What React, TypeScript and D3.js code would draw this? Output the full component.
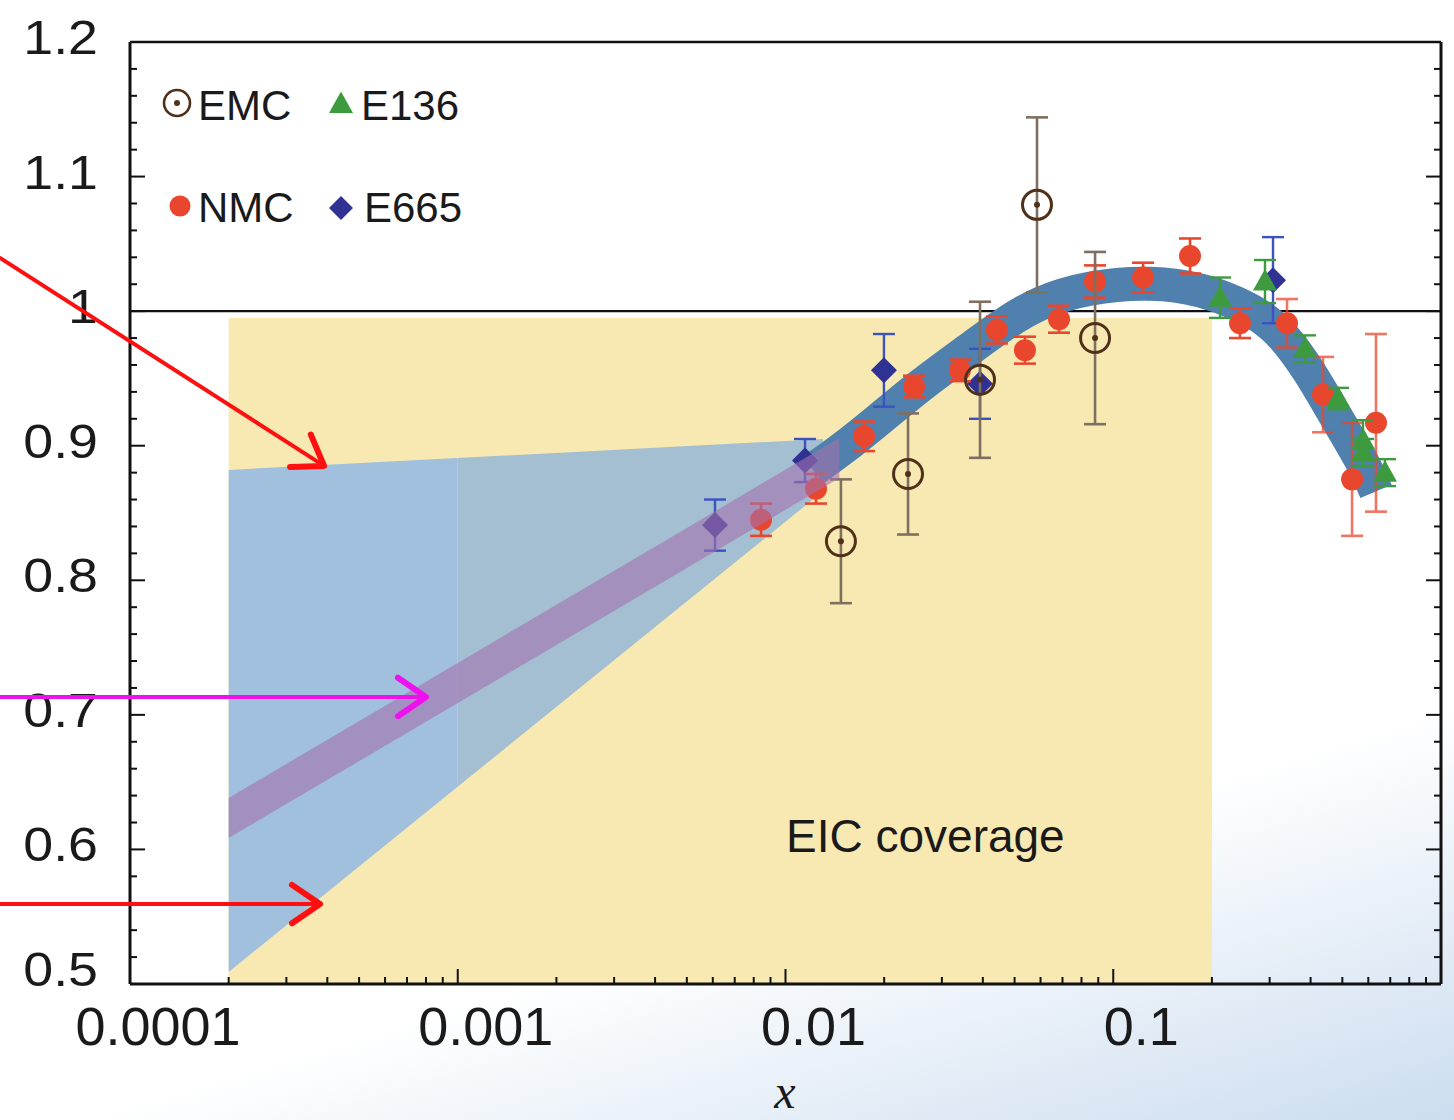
import React from 'react';
import * as d3 from 'd3';

// ---------- data ----------
const emcX = [0.01476, 0.02365, 0.03922, 0.05853, 0.088];
const emcY = [0.829, 0.879, 0.949, 1.079, 0.980];
const emcErr = [0.046, 0.045, 0.058, 0.065, 0.064];

const nmcX = [0.00842, 0.01239, 0.01736, 0.02467, 0.03406, 0.04417, 0.05378, 0.06832, 0.088, 0.1233, 0.1715, 0.2436, 0.339, 0.4365, 0.5354, 0.6334];
const nmcY = [0.845, 0.868, 0.907, 0.944, 0.956, 0.986, 0.971, 0.994, 1.022, 1.025, 1.041, 0.991, 0.991, 0.938, 0.875, 0.917];
const nmcErr = [0.012, 0.011, 0.011, 0.008, 0.008, 0.010, 0.010, 0.010, 0.012, 0.011, 0.013, 0.011, 0.018, 0.028, 0.042, 0.066];

const e665X = [0.006094, 0.01147, 0.01997, 0.03922, 0.3072];
const e665Y = [0.841, 0.889, 0.956, 0.946, 1.023];
const e665Err = [0.019, 0.016, 0.027, 0.026, 0.032];

const e136X = [0.2117, 0.2904, 0.3847, 0.4851, 0.5781, 0.5781, 0.6747];
const e136Y = [1.010, 1.022, 0.972, 0.935, 0.904, 0.895, 0.880];
const e136Err = [0.015, 0.016, 0.010, 0.008, 0.015, 0.010, 0.010];

// fitted nuclear ratio (dark band centre line)
const bandX = [0.01213, 0.01466, 0.01942, 0.02573, 0.03655, 0.04609, 0.05853, 0.08316, 0.1322, 0.1878, 0.2385, 0.2804, 0.3296, 0.3985, 0.4684, 0.5277, 0.5943, 0.6334];
const bandY = [0.882, 0.896, 0.920, 0.945, 0.972, 0.990, 1.006, 1.018, 1.022, 1.016, 1.006, 0.997, 0.983, 0.955, 0.925, 0.904, 0.882, 0.866];

// light-blue extrapolation envelope
const shadeX = [0.0002, 0.013];
const shadeLo = [0.509, 0.866];
const shadeHi = [0.882, 0.905];

// purple band (EIC projection)
const purpleX = [0.0002, 0.00542, 0.0146];
const purpleY = [0.6234, 0.829, 0.891];
const purpleHalf = 0.0149;

// EIC coverage
const eicRange = [0.0002, 0.2];
const eicTop = 0.995;

const yTickLabels = ['0.5', '0.6', '0.7', '0.8', '0.9', '1', '1.1', '1.2'];
const yTickValues = [0.5, 0.6, 0.7, 0.8, 0.9, 1.0, 1.1, 1.2];
const xTickLabels = ['0.0001', '0.001', '0.01', '0.1', '1'];
const xTickValues = [0.0001, 0.001, 0.01, 0.1, 1];

// annotation arrows in data space
const arrows = [
  { from: [4.012e-5, 1.0395], to: [3.91e-4, 0.885], color: '#ff1010' },
  { from: [4.012e-5, 0.7133], to: [8.0e-4, 0.7133], color: '#ee11ee' },
  { from: [4.012e-5, 0.5594], to: [3.8e-4, 0.5594], color: '#ff1010' },
];

const FONT = "'Liberation Sans', Arial, Helvetica, sans-serif";

export default function App() {
  const W = 1454, H = 1120;
  const L = 130, R = 1441, T = 42, B = 984;
  const x = d3.scaleLog().domain([1e-4, 1]).range([L, R]);
  const y = d3.scaleLinear().domain([0.5, 1.2]).range([B, T]);

  const bandPath = d3.line<number>()
    .x((_, i) => x(bandX[i]))
    .y((d) => y(d))
    .curve(d3.curveBasis)(bandY) as string;

  const shadePath = d3.area<number>()
    .x((_, i) => x(shadeX[i]))
    .y0((_, i) => y(shadeLo[i]))
    .y1((_, i) => y(shadeHi[i]))(shadeX) as string;

  const purplePath = d3.area<number>()
    .x((_, i) => x(purpleX[i]))
    .y0((d) => y(d - purpleHalf))
    .y1((d) => y(d + purpleHalf))(purpleY) as string;

  // ticks
  const yMinor = d3.range(0, 36).map((i) => 0.5 + i * 0.02);
  const xMinor: { v: number; major: boolean }[] = [];
  for (let e = -4; e <= 0; e++) {
    for (let m = 1; m <= 9; m++) {
      const v = m * Math.pow(10, e);
      if (v > 1.0000001) break;
      xMinor.push({ v, major: m === 1 });
    }
  }

  const errBar = (cx: number, cy: number, err: number, color: string, key: string, w = 2.6, cap = 11, op = 1) => (
    <g key={key} stroke={color} strokeWidth={w} opacity={op}>
      <line x1={x(cx)} x2={x(cx)} y1={y(cy - err)} y2={y(cy + err)} />
      <line x1={x(cx) - cap} x2={x(cx) + cap} y1={y(cy - err)} y2={y(cy - err)} />
      <line x1={x(cx) - cap} x2={x(cx) + cap} y1={y(cy + err)} y2={y(cy + err)} />
    </g>
  );

  const diamond = (px: number, py: number, s: number) =>
    `M${px},${py - s}L${px + s},${py}L${px},${py + s}L${px - s},${py}Z`;
  const triangle = (px: number, py: number, s: number) =>
    `M${px},${py - s * 1.05}L${px + s},${py + s * 0.75}L${px - s},${py + s * 0.75}Z`;

  const arrowHead = (x0: number, y0: number, x1: number, y1: number) => {
    const a = Math.atan2(y1 - y0, x1 - x0);
    const len = 34, sp = 0.6;
    const p1 = [x1 - len * Math.cos(a - sp), y1 - len * Math.sin(a - sp)];
    const p2 = [x1 - len * Math.cos(a + sp), y1 - len * Math.sin(a + sp)];
    return `M${p1[0]},${p1[1]}L${x1},${y1}L${p2[0]},${p2[1]}`;
  };

  const NMC = '#e9472d';
  const EMC = '#4f3019';
  const EMCBAR = '#7f6f60';
  const E665 = '#2f3293';
  const E665BAR = '#3c52c0';
  const E136 = '#3e9a3f';

  return (
    <svg width={W} height={H} style={{ position: 'absolute', left: 0, top: 0, display: 'block' }}>
      <defs>
        <linearGradient id="bg" gradientUnits="userSpaceOnUse" x1={340} y1={1040} x2={460} y2={1440}>
          <stop offset="0" stopColor="#ffffff" />
          <stop offset="1" stopColor="#c9dbee" />
        </linearGradient>
        <clipPath id="shadeClip">
          <path d={shadePath} />
        </clipPath>
      </defs>
      <rect x={0} y={0} width={W} height={H} fill="url(#bg)" />

      {/* EIC coverage */}
      <rect x={x(eicRange[0])} y={y(eicTop)} width={x(eicRange[1]) - x(eicRange[0])} height={y(0.5) - y(eicTop)} fill="#f8e9b2" />

      {/* light blue envelope */}
      <g clipPath="url(#shadeClip)">
        <rect x={x(shadeX[0]) - 2} y={T} width={x(0.001) - x(shadeX[0]) + 2} height={B - T} fill="#a1c0dd" />
        <rect x={x(0.001)} y={T} width={x(shadeX[1]) - x(0.001) + 2} height={B - T} fill="#a3bfd1" />
      </g>

      {/* y = 1 line */}
      <line x1={L} x2={R} y1={y(1)} y2={y(1)} stroke="#111" strokeWidth={2.2} />

      {/* dark band */}
      <path d={bandPath} fill="none" stroke="#5080ad" strokeWidth={34} strokeLinecap="butt" strokeLinejoin="round" />

      {/* data points */}
      <g>
        {e665X.map((v, i) => errBar(v, e665Y[i], e665Err[i], E665BAR, 'e665e' + i, 2.4, 11))}
        {e665X.map((v, i) => (
          <path key={'e665' + i} d={diamond(x(v), y(e665Y[i]), 13)} fill={E665} />
        ))}
        {nmcX.map((v, i) => errBar(v, nmcY[i], nmcErr[i], NMC, 'nmce' + i, 2.6, 11, i > 11 ? 0.75 : 1))}
        {nmcX.map((v, i) => (
          <circle key={'nmc' + i} cx={x(v)} cy={y(nmcY[i])} r={11} fill={NMC} />
        ))}
        {emcX.map((v, i) => errBar(v, emcY[i], emcErr[i], EMCBAR, 'emce' + i, 2.6, 11))}
        {emcX.map((v, i) => (
          <g key={'emc' + i}>
            <circle cx={x(v)} cy={y(emcY[i])} r={14.5} fill="none" stroke={EMC} strokeWidth={3} />
            <circle cx={x(v)} cy={y(emcY[i])} r={3} fill={EMC} />
          </g>
        ))}
        {e136X.map((v, i) => errBar(v, e136Y[i], e136Err[i], E136, 'e136e' + i, 2.4, 11))}
        {e136X.map((v, i) => (
          <path key={'e136' + i} d={triangle(x(v), y(e136Y[i]), 12)} fill={E136} />
        ))}
      </g>

      {/* purple band on top */}
      <path d={purplePath} fill="rgb(164,114,173)" fillOpacity={0.6} />

      {/* EIC text */}
      <text x={786} y={852} fontFamily={FONT} fontSize={46} fill="#1a1a1a">EIC coverage</text>

      {/* legend */}
      <g fontFamily={FONT} fontSize={42} fill="#1a1a1a">
        <circle cx={177} cy={103} r={13} fill="none" stroke={EMC} strokeWidth={2.6} />
        <circle cx={177} cy={103} r={3} fill={EMC} />
        <text x={198} y={120}>EMC</text>
        <path d={triangle(341, 104, 12)} fill={E136} />
        <text x={361} y={120}>E136</text>
        <circle cx={180} cy={206} r={10.5} fill={NMC} />
        <text x={198} y={222}>NMC</text>
        <path d={diamond(341, 208, 12)} fill={E665} />
        <text x={364} y={222}>E665</text>
      </g>

      {/* axes frame */}
      <g stroke="#111" fill="none">
        <line x1={L} x2={R} y1={T} y2={T} strokeWidth={2.6} />
        <line x1={R} x2={R} y1={T} y2={B} strokeWidth={3} />
        <line x1={L} x2={L} y1={T} y2={B} strokeWidth={3} />
        <line x1={L} x2={R} y1={B} y2={B} strokeWidth={3.2} />
      </g>
      {/* ticks (inward) */}
      <g stroke="#111" strokeWidth={2}>
        {yMinor.map((v, i) => {
          const major = Math.abs(v * 10 - Math.round(v * 10)) < 1e-6;
          const len = major ? 15 : 7;
          return (
            <g key={'yt' + i}>
              <line x1={L} x2={L + len} y1={y(v)} y2={y(v)} />
              <line x1={R - len} x2={R} y1={y(v)} y2={y(v)} />
            </g>
          );
        })}
        {xMinor.map((t, i) => (
          <line key={'xt' + i} x1={x(t.v)} x2={x(t.v)} y1={B} y2={B - (t.major ? 15 : 7)} />
        ))}
      </g>
      {/* y tick labels */}
      <g fontFamily={FONT} fontSize={48} fill="#1a1a1a">
        {yTickValues.map((v, i) => (
          <g key={'yl' + i} transform={`translate(98,${Math.min(y(v) + 12, 986)}) scale(1.12,1)`}>
            <text x={0} y={0} textAnchor="end">{yTickLabels[i]}</text>
          </g>
        ))}
      </g>
      {/* x tick labels */}
      <g fontFamily={FONT} fontSize={54} fill="#1a1a1a">
        {xTickValues.map((v, i) => (
          <text key={'xl' + i} x={x(v) + 28} y={1045} textAnchor="middle">{xTickLabels[i]}</text>
        ))}
      </g>
      <text x={785} y={1108} fontFamily="'Liberation Serif', 'Times New Roman', serif" fontStyle="italic" fontSize={48} textAnchor="middle" fill="#1a1a1a">x</text>

      {/* annotation arrows */}
      <g fill="none" strokeLinecap="round" strokeLinejoin="round">
        {arrows.map((a, i) => {
          const x0 = x(a.from[0]), y0 = y(a.from[1]), x1 = x(a.to[0]), y1 = y(a.to[1]);
          return (
            <g key={'ar' + i} stroke={a.color}>
              <line x1={x0} y1={y0} x2={x1} y2={y1} strokeWidth={4} />
              <path d={arrowHead(x0, y0, x1, y1)} strokeWidth={6} />
            </g>
          );
        })}
      </g>
    </svg>
  );
}
